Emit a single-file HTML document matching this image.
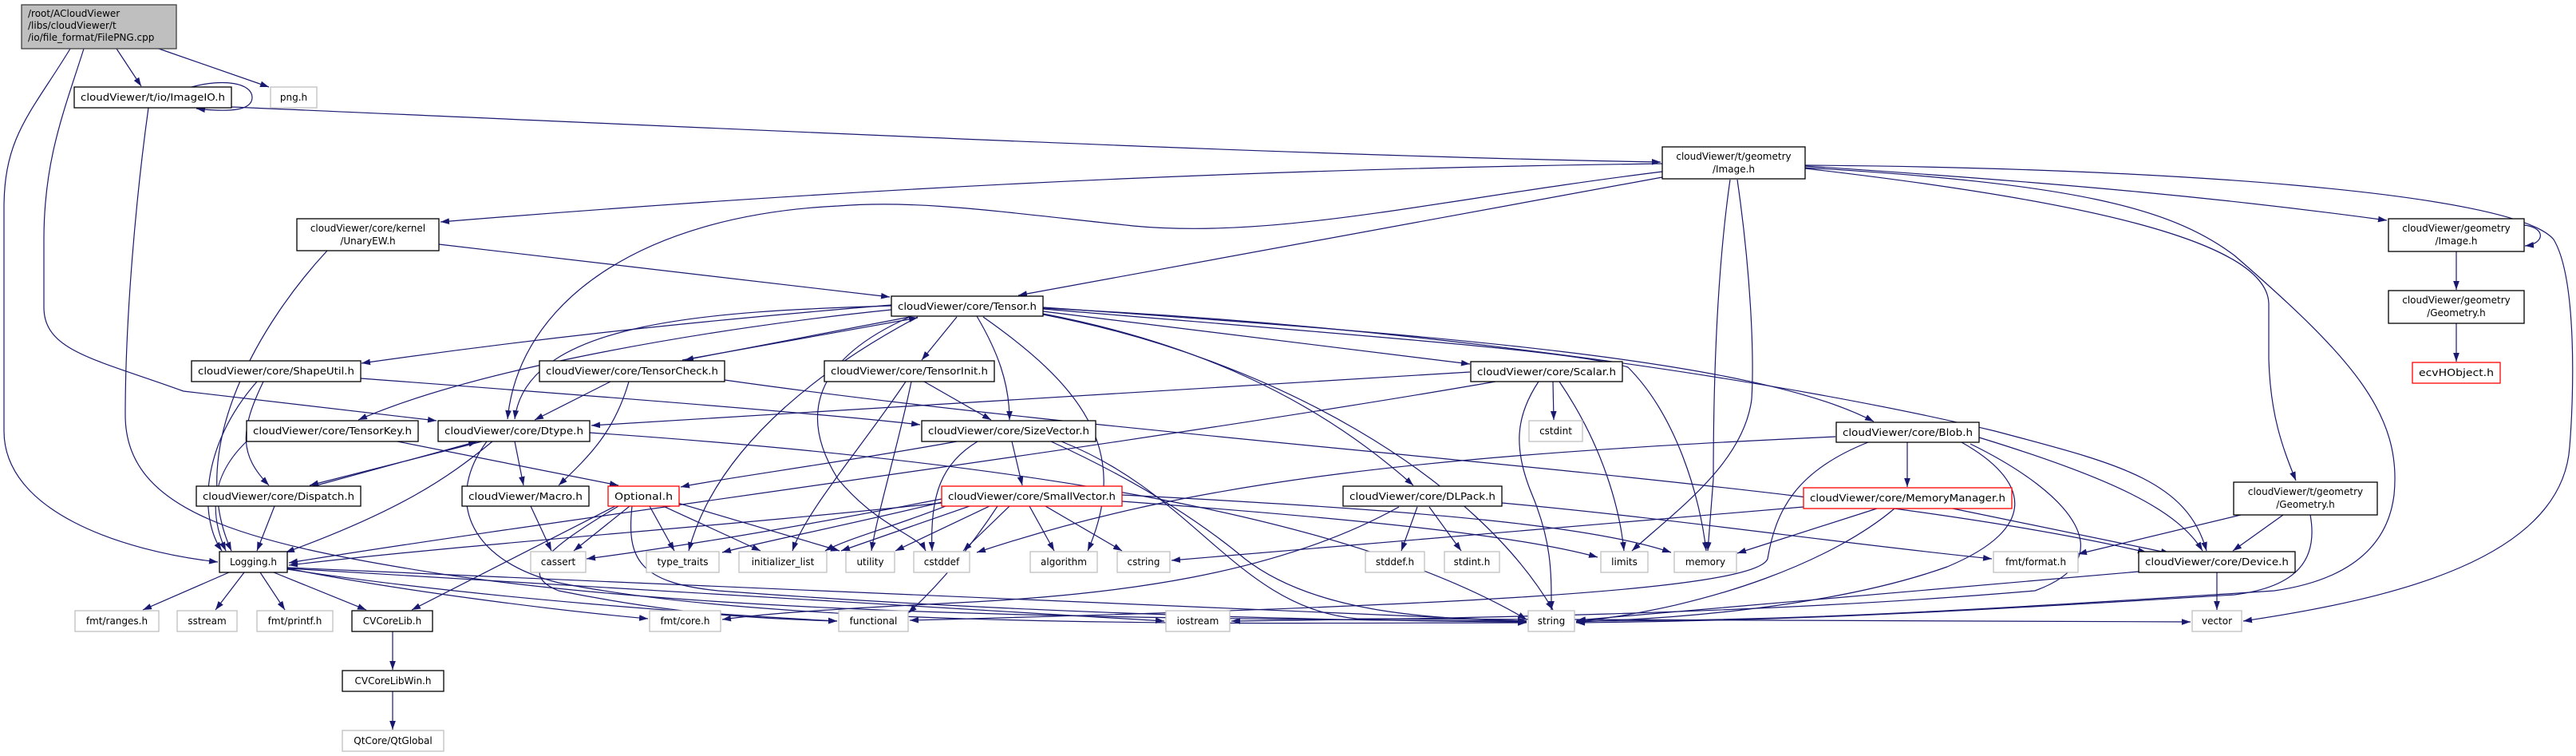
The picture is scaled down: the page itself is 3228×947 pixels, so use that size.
<!DOCTYPE html>
<html><head><meta charset="utf-8"><style>
html,body{margin:0;padding:0;background:#fff;}
svg{display:block;}
text{font-family:"DejaVu Sans","Liberation Sans",sans-serif;font-size:12px;fill:#000;}
.b{fill:#fff;stroke:#000;stroke-width:1.3;}
.g{fill:#fff;stroke:#bfbfbf;stroke-width:1.3;}
.r{fill:#fff;stroke:#ff0000;stroke-width:1.3;}
.e{fill:none;stroke:#191970;stroke-width:1.2;marker-end:url(#a);}
</style></head><body>
<svg width="3228" height="947" viewBox="0 0 3228 947" xmlns="http://www.w3.org/2000/svg">
<defs><marker id="a" markerUnits="userSpaceOnUse" viewBox="0 0 10 7" refX="10" refY="3.5" markerWidth="11" markerHeight="8" orient="auto"><path d="M0,0 L10,3.5 L0,7 z" fill="#191970"/></marker></defs>
<g>
<path class="e" d="M146,61 L177,108"/>
<path class="e" d="M199,61 L337,109"/>
<path class="e" d="M88,61 C40,140 5,170 5,260 L5,540 C5,640 150,690 273,704"/>
<path class="e" d="M105,61 C80,140 55,200 55,300 L55,385 C55,440 120,450 230,490 L547,527"/>
<path class="e" d="M240,109 C280,98 316,104 316,122 C316,138 290,141 246,136"/>
<path class="e" d="M290,134 C900,160 1600,195 2081,203"/>
<path class="e" d="M186,135 C170,250 157,400 157,520 C157,640 300,680 560,720 C900,770 1400,775 1913,778"/>
<path class="e" d="M2083,205 C1700,210 1200,225 552,278"/>
<path class="e" d="M2083,215 C1800,250 1600,300 1420,283 C1250,265 1150,250 1050,258 C800,270 650,380 636,525"/>
<path class="e" d="M2083,222 L1276,370"/>
<path class="e" d="M2168,225 C2150,350 2147,500 2147,600 L2140,690"/>
<path class="e" d="M2177,225 C2195,350 2198,450 2195,500 C2185,580 2100,640 2045,690"/>
<path class="e" d="M2262,207 C2700,210 3150,240 3200,300 C3230,350 3225,500 3220,560 C3210,700 3000,750 2811,778"/>
<path class="e" d="M2262,210 C2600,230 2720,260 2800,320 C2950,450 3010,520 3000,620 C2990,700 2920,730 2850,740 C2400,770 2200,778 1975,778"/>
<path class="e" d="M2262,211 C2600,250 2840,300 2843,380 L2843,450 C2845,520 2860,560 2877,602"/>
<path class="e" d="M2262,208 C2600,230 2800,250 2991,276"/>
<path class="e" d="M3163,282 C3190,285 3190,305 3164,308"/>
<path class="e" d="M3078,315 L3078,363"/>
<path class="e" d="M3078,405 L3078,453"/>
<path class="e" d="M550,306 L1115,372"/>
<path class="e" d="M410,314 C330,400 230,560 290,690"/>
<path class="e" d="M1117,382 C900,400 700,420 453,455"/>
<path class="e" d="M1140,397 L858,451"/>
<path class="e" d="M855,451 L1150,398"/>
<path class="e" d="M1117,383 C900,390 660,400 645,525"/>
<path class="e" d="M1117,388 C900,410 600,460 449,526"/>
<path class="e" d="M765,478 L670,526"/>
<path class="e" d="M788,478 C770,540 740,570 700,608"/>
<path class="e" d="M908,476 C1500,560 2300,600 2690,692"/>
<path class="e" d="M1199,397 L1155,451"/>
<path class="e" d="M1224,396 C1250,440 1265,480 1265,526"/>
<path class="e" d="M1158,478 L1242,526"/>
<path class="e" d="M1135,478 C1080,560 1010,640 993,690"/>
<path class="e" d="M1142,478 C1125,560 1100,640 1092,690"/>
<path class="e" d="M1199,553 C1050,580 900,600 853,610"/>
<path class="e" d="M1268,553 L1281,608"/>
<path class="e" d="M1225,553 C1180,580 1165,620 1168,690"/>
<path class="e" d="M1317,553 C1420,600 1500,650 1560,700 C1650,770 1800,775 1913,778"/>
<path class="e" d="M1330,553 C1500,620 1550,760 1700,775 C2200,780 2600,780 2745,779"/>
<path class="e" d="M1307,390 L1842,456"/>
<path class="e" d="M1307,393 C1500,430 1650,500 1771,608"/>
<path class="e" d="M1307,394 C1600,450 1850,600 1946,764"/>
<path class="e" d="M1307,385 C1800,420 2200,450 2348,528"/>
<path class="e" d="M1307,386 C1800,410 2250,480 2500,540 C2650,580 2740,600 2765,690"/>
<path class="e" d="M1307,387 C1700,420 1980,440 2040,460 C2100,520 2130,620 2138,690"/>
<path class="e" d="M1232,397 C1350,480 1420,560 1363,690"/>
<path class="e" d="M1140,397 C1020,450 1000,520 1050,600 C1100,660 1150,670 1160,690"/>
<path class="e" d="M1150,397 C1050,450 900,550 863,690"/>
<path class="e" d="M1842,466 L741,533"/>
<path class="e" d="M1946,478 L1947,526"/>
<path class="e" d="M1928,478 C1900,520 1895,560 1920,620 C1945,680 1944,720 1944,764"/>
<path class="e" d="M1954,478 C2010,560 2030,640 2035,690"/>
<path class="e" d="M1874,478 C1400,560 700,650 362,705"/>
<path class="e" d="M393,609 L598,553"/>
<path class="e" d="M604,553 L388,608"/>
<path class="e" d="M645,553 L656,608"/>
<path class="e" d="M617,553 C560,600 500,640 358,692"/>
<path class="e" d="M739,542 C1300,580 1700,650 1913,776"/>
<path class="e" d="M610,553 C560,620 580,700 700,730 C1000,790 1600,780 1913,780"/>
<path class="e" d="M498,553 L775,608"/>
<path class="e" d="M309,553 C260,600 265,650 283,690"/>
<path class="e" d="M322,478 C250,560 250,650 278,690"/>
<path class="e" d="M330,478 C300,540 300,570 337,608"/>
<path class="e" d="M452,474 C800,500 1050,520 1153,532"/>
<path class="e" d="M344,634 L322,690"/>
<path class="e" d="M665,634 L691,690"/>
<path class="e" d="M789,634 L719,690"/>
<path class="e" d="M814,634 L845,690"/>
<path class="e" d="M831,634 L953,690"/>
<path class="e" d="M849,630 L1052,690"/>
<path class="e" d="M792,634 C785,700 800,730 900,740 C1300,770 1700,778 1913,779"/>
<path class="e" d="M771,634 L516,764"/>
<path class="e" d="M775,634 C680,690 650,720 700,740 C850,770 950,775 1049,778"/>
<path class="e" d="M1180,625 C1000,660 850,685 735,700"/>
<path class="e" d="M1185,628 C1050,660 950,680 905,692"/>
<path class="e" d="M1190,632 C1120,660 1060,675 1034,690"/>
<path class="e" d="M1215,634 L1054,690"/>
<path class="e" d="M1240,634 L1122,690"/>
<path class="e" d="M1265,634 L1207,690"/>
<path class="e" d="M1290,634 L1321,690"/>
<path class="e" d="M1310,634 L1406,690"/>
<path class="e" d="M1406,628 C1700,650 1900,670 2002,698"/>
<path class="e" d="M1406,620 C1800,640 2000,660 2094,692"/>
<path class="e" d="M1250,634 C1220,680 1180,730 1138,768"/>
<path class="e" d="M1180,630 C900,660 600,680 362,708"/>
<path class="e" d="M1753,635 C1600,720 1400,745 1200,755 C1000,765 950,770 905,776"/>
<path class="e" d="M1776,635 L1756,690"/>
<path class="e" d="M1791,635 L1831,690"/>
<path class="e" d="M1882,630 C2100,650 2300,680 2496,700"/>
<path class="e" d="M2300,547 C1800,570 1500,600 1224,692"/>
<path class="e" d="M2341,554 C2250,590 2225,640 2215,700 C2200,740 1800,760 1140,777"/>
<path class="e" d="M2480,548 C2650,600 2730,640 2760,690"/>
<path class="e" d="M2458,554 C2540,600 2560,660 2440,710 C2300,760 2100,775 1975,779"/>
<path class="e" d="M2469,556 C2600,620 2660,700 2550,740 C2200,770 1800,775 1543,778"/>
<path class="e" d="M2390,554 L2390,610"/>
<path class="e" d="M2352,637 L2177,693"/>
<path class="e" d="M2447,637 L2719,693"/>
<path class="e" d="M2260,635 L1468,702"/>
<path class="e" d="M2374,637 C2300,700 2150,760 1975,779"/>
<path class="e" d="M2808,645 L2604,694"/>
<path class="e" d="M2861,645 L2798,690"/>
<path class="e" d="M2895,645 C2905,700 2880,735 2800,745 C2400,770 2200,778 1975,780"/>
<path class="e" d="M2778,717 L2778,764"/>
<path class="e" d="M2680,716 L1976,777"/>
<path class="e" d="M287,717 L179,764"/>
<path class="e" d="M306,717 L270,764"/>
<path class="e" d="M326,717 L357,764"/>
<path class="e" d="M343,717 L459,764"/>
<path class="e" d="M360,712 C500,740 700,765 812,775"/>
<path class="e" d="M360,713 C600,750 900,770 1049,778"/>
<path class="e" d="M360,712 C800,740 1200,760 1459,778"/>
<path class="e" d="M360,711 C900,735 1500,760 1913,778"/>
<path class="e" d="M492,791 L492,839"/>
<path class="e" d="M492,866 L492,914"/>
</g>
<g>
<rect x="27" y="6" width="194" height="55" fill="#bfbfbf" stroke="#404040" stroke-width="1.3"/>
<text x="35" y="21">/root/ACloudViewer</text><text x="35" y="36">/libs/cloudViewer/t</text><text x="35" y="51">/io/file_format/FilePNG.cpp</text>

<rect class="b" x="93" y="109" width="197" height="26"/><text x="191.5" y="126" text-anchor="middle" textLength="181" lengthAdjust="spacingAndGlyphs">cloudViewer/t/io/ImageIO.h</text>
<rect class="g" x="339" y="109" width="58" height="26"/><text x="368" y="126" text-anchor="middle">png.h</text>

<rect class="b" x="2083" y="184" width="179" height="40"/><text x="2172.5" y="200" text-anchor="middle">cloudViewer/t/geometry</text><text x="2172.5" y="216" text-anchor="middle">/Image.h</text>
<rect class="b" x="372" y="274" width="178" height="40"/><text x="461" y="290" text-anchor="middle">cloudViewer/core/kernel</text><text x="461" y="306" text-anchor="middle">/UnaryEW.h</text>
<rect class="b" x="2993" y="274" width="170" height="41"/><text x="3078" y="290" text-anchor="middle">cloudViewer/geometry</text><text x="3078" y="306" text-anchor="middle">/Image.h</text>
<rect class="b" x="1117" y="371" width="190" height="25"/><text x="1212" y="388" text-anchor="middle" textLength="174" lengthAdjust="spacingAndGlyphs">cloudViewer/core/Tensor.h</text>
<rect class="b" x="2993" y="364" width="170" height="41"/><text x="3078" y="380" text-anchor="middle">cloudViewer/geometry</text><text x="3078" y="396" text-anchor="middle">/Geometry.h</text>

<rect class="b" x="240" y="452" width="212" height="26"/><text x="346" y="469" text-anchor="middle" textLength="196" lengthAdjust="spacingAndGlyphs">cloudViewer/core/ShapeUtil.h</text>
<rect class="b" x="676" y="452" width="232" height="26"/><text x="792" y="469" text-anchor="middle" textLength="216" lengthAdjust="spacingAndGlyphs">cloudViewer/core/TensorCheck.h</text>
<rect class="b" x="1033" y="452" width="213" height="26"/><text x="1139.5" y="469" text-anchor="middle" textLength="197" lengthAdjust="spacingAndGlyphs">cloudViewer/core/TensorInit.h</text>
<rect class="b" x="1843" y="453" width="190" height="25"/><text x="1938" y="470" text-anchor="middle" textLength="174" lengthAdjust="spacingAndGlyphs">cloudViewer/core/Scalar.h</text>
<rect class="r" x="3023" y="454" width="110" height="26"/><text x="3078" y="471" text-anchor="middle" textLength="94" lengthAdjust="spacingAndGlyphs">ecvHObject.h</text>

<rect class="b" x="309" y="527" width="215" height="26"/><text x="416.5" y="544" text-anchor="middle" textLength="199" lengthAdjust="spacingAndGlyphs">cloudViewer/core/TensorKey.h</text>
<rect class="b" x="549" y="527" width="190" height="26"/><text x="644" y="544" text-anchor="middle" textLength="174" lengthAdjust="spacingAndGlyphs">cloudViewer/core/Dtype.h</text>
<rect class="b" x="1155" y="527" width="218" height="26"/><text x="1264" y="544" text-anchor="middle" textLength="202" lengthAdjust="spacingAndGlyphs">cloudViewer/core/SizeVector.h</text>
<rect class="g" x="1916" y="527" width="67" height="26"/><text x="1949.5" y="544" text-anchor="middle">cstdint</text>
<rect class="b" x="2301" y="529" width="179" height="25"/><text x="2390.5" y="546" text-anchor="middle" textLength="163" lengthAdjust="spacingAndGlyphs">cloudViewer/core/Blob.h</text>

<rect class="b" x="246" y="609" width="206" height="25"/><text x="349" y="626" text-anchor="middle" textLength="190" lengthAdjust="spacingAndGlyphs">cloudViewer/core/Dispatch.h</text>
<rect class="b" x="579" y="609" width="159" height="25"/><text x="658.5" y="626" text-anchor="middle" textLength="143" lengthAdjust="spacingAndGlyphs">cloudViewer/Macro.h</text>
<rect class="r" x="762" y="609" width="89" height="25"/><text x="806.5" y="626" text-anchor="middle" textLength="73" lengthAdjust="spacingAndGlyphs">Optional.h</text>
<rect class="r" x="1180" y="609" width="226" height="25"/><text x="1293" y="626" text-anchor="middle" textLength="210" lengthAdjust="spacingAndGlyphs">cloudViewer/core/SmallVector.h</text>
<rect class="b" x="1683" y="609" width="199" height="25"/><text x="1782.5" y="626" text-anchor="middle" textLength="183" lengthAdjust="spacingAndGlyphs">cloudViewer/core/DLPack.h</text>
<rect class="r" x="2260" y="611" width="261" height="26"/><text x="2390.5" y="628" text-anchor="middle" textLength="245" lengthAdjust="spacingAndGlyphs">cloudViewer/core/MemoryManager.h</text>
<rect class="b" x="2799" y="604" width="180" height="41"/><text x="2889" y="620" text-anchor="middle">cloudViewer/t/geometry</text><text x="2889" y="636" text-anchor="middle">/Geometry.h</text>

<rect class="b" x="275" y="691" width="85" height="26"/><text x="317.5" y="708" text-anchor="middle">Logging.h</text>
<rect class="g" x="665" y="691" width="69" height="26"/><text x="699.5" y="708" text-anchor="middle">cassert</text>
<rect class="g" x="810" y="691" width="91" height="26"/><text x="855.5" y="708" text-anchor="middle">type_traits</text>
<rect class="g" x="926" y="691" width="110" height="26"/><text x="981" y="708" text-anchor="middle">initializer_list</text>
<rect class="g" x="1060" y="691" width="61" height="26"/><text x="1090.5" y="708" text-anchor="middle">utility</text>
<rect class="g" x="1145" y="691" width="70" height="26"/><text x="1180" y="708" text-anchor="middle">cstddef</text>
<rect class="g" x="1291" y="691" width="84" height="26"/><text x="1333" y="708" text-anchor="middle">algorithm</text>
<rect class="g" x="1400" y="691" width="66" height="26"/><text x="1433" y="708" text-anchor="middle">cstring</text>
<rect class="g" x="1711" y="691" width="74" height="26"/><text x="1748" y="708" text-anchor="middle">stddef.h</text>
<rect class="g" x="1810" y="691" width="69" height="26"/><text x="1844.5" y="708" text-anchor="middle">stdint.h</text>
<rect class="g" x="2006" y="691" width="59" height="26"/><text x="2035.5" y="708" text-anchor="middle">limits</text>
<rect class="g" x="2098" y="691" width="78" height="26"/><text x="2137" y="708" text-anchor="middle">memory</text>
<rect class="g" x="2498" y="691" width="106" height="26"/><text x="2551" y="708" text-anchor="middle">fmt/format.h</text>
<rect class="b" x="2680" y="691" width="196" height="26"/><text x="2778" y="708" text-anchor="middle" textLength="180" lengthAdjust="spacingAndGlyphs">cloudViewer/core/Device.h</text>

<rect class="g" x="94" y="765" width="105" height="26"/><text x="146.5" y="782" text-anchor="middle">fmt/ranges.h</text>
<rect class="g" x="222" y="765" width="75" height="26"/><text x="259.5" y="782" text-anchor="middle">sstream</text>
<rect class="g" x="322" y="765" width="95" height="26"/><text x="369.5" y="782" text-anchor="middle">fmt/printf.h</text>
<rect class="b" x="441" y="765" width="101" height="26"/><text x="491.5" y="782" text-anchor="middle">CVCoreLib.h</text>
<rect class="g" x="814" y="765" width="89" height="26"/><text x="858.5" y="782" text-anchor="middle">fmt/core.h</text>
<rect class="g" x="1051" y="765" width="87" height="26"/><text x="1094.5" y="782" text-anchor="middle">functional</text>
<rect class="g" x="1461" y="765" width="80" height="26"/><text x="1501" y="782" text-anchor="middle">iostream</text>
<rect class="g" x="1915" y="765" width="58" height="26"/><text x="1944" y="782" text-anchor="middle">string</text>
<rect class="g" x="2747" y="765" width="62" height="26"/><text x="2778" y="782" text-anchor="middle">vector</text>

<rect class="b" x="429" y="840" width="127" height="26"/><text x="492.5" y="857" text-anchor="middle">CVCoreLibWin.h</text>
<rect class="g" x="429" y="915" width="127" height="26"/><text x="492.5" y="932" text-anchor="middle">QtCore/QtGlobal</text>
</g>
</svg>
</body></html>
